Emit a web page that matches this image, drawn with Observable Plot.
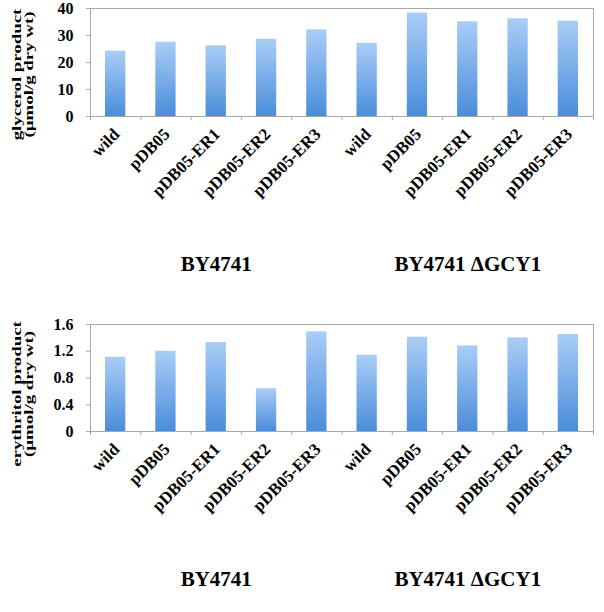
<!DOCTYPE html>
<html><head><meta charset="utf-8">
<script src="https://cdn.jsdelivr.net/npm/d3@7"></script>
<script src="https://cdn.jsdelivr.net/npm/@observablehq/plot@0.6"></script>
<style>
body{margin:0;background:#fff}
#c svg{display:block}
</style>
</head><body><div id="c"></div>
<script>
const strains = ["wild","pDB05","pDB05-ER1","pDB05-ER2","pDB05-ER3","wild","pDB05","pDB05-ER1","pDB05-ER2","pDB05-ER3"];
const strainGroup = ["BY4741","BY4741","BY4741","BY4741","BY4741","BY4741 ΔGCY1","BY4741 ΔGCY1","BY4741 ΔGCY1","BY4741 ΔGCY1","BY4741 ΔGCY1"];
const groups = ["BY4741","BY4741 ΔGCY1"];
const glycerol = [24.2, 27.5, 26.2, 28.6, 32.1, 27.1, 38.3, 35.1, 36.2, 35.3];
const erythritol = [1.11, 1.20, 1.33, 0.64, 1.49, 1.14, 1.41, 1.28, 1.40, 1.45];
const glycerolTicks = [0, 10, 20, 30, 40];
const erythritolTicks = [0, 0.4, 0.8, 1.2, 1.6];
const glycerolTitle = "glycerol product";
const erythritolTitle = "erythritol product";
const unitTitle = "(µmol/g dry wt)";

const FONT = "'Liberation Serif', 'Times New Roman', serif";
const GRAY = "#a8a8a8";
const TITLE_STRETCH = 1.45;

function chart({values, ticks, tickFormat, title, height, marginTop, marginBottom, titleDy, gradId}) {
  const rows = values.map((v, i) => ({i, v, name: strains[i], group: strainGroup[i]}));
  const gc = groups.map(g => ({g, c: d3.mean(rows.filter(r => r.group === g), r => r.i + 0.5)}));
  const yMid = (ticks[0] + ticks[ticks.length - 1]) / 2;
  const titleRows = [{t: title, dx: -74}, {t: unitTitle, dx: -62}];
  const svg = Plot.plot({
    width: 604, height, marginLeft: 90, marginRight: 11, marginTop, marginBottom,
    style: {fontFamily: FONT, fontWeight: "bold", fontSize: "15px", color: "black", background: "white", overflow: "hidden"},
    x: {type: "linear", domain: [0, strains.length], axis: null},
    y: {domain: [ticks[0], ticks[ticks.length - 1]], axis: null},
    marks: [
      Plot.rectY(rows, {x1: "i", x2: d => d.i + 1, y: "v", insetLeft: 15, insetRight: 15, fill: `url(#${gradId})`}),
      Plot.frame({stroke: GRAY}),
      Plot.axisY({ticks, tickFormat, tickSize: 4, tickPadding: 13, stroke: GRAY, fill: "black", fontSize: 16, label: null}),
      Plot.axisX({ticks: d3.range(strains.length + 1), tickFormat: () => "", tickSize: 4, stroke: GRAY, label: null}),
      Plot.text(rows, {x: d => d.i + 0.5, y: 0, text: "name", rotate: -45, textAnchor: "end", dx: 1, dy: 15, fontSize: 17, fill: "black"}),
      Plot.text(gc, {x: "c", y: 0, text: "g", dy: 148, fontSize: 21, fill: "black"}),
      Plot.text(titleRows.slice(0, 1), {x: () => 0, y: () => yMid, text: "t", rotate: -90, dx: titleRows[0].dx, dy: titleDy, fontSize: 13, fill: "black"}),
      Plot.text(titleRows.slice(1), {x: () => 0, y: () => yMid, text: "t", rotate: -90, dx: titleRows[1].dx, dy: titleDy, fontSize: 13, fill: "black"})
    ]
  });
  const defs = d3.select(svg).insert("defs", ":first-child");
  const lg = defs.append("linearGradient").attr("id", gradId).attr("x1", 0).attr("y1", 0).attr("x2", 0).attr("y2", 1);
  lg.append("stop").attr("offset", "0%").attr("stop-color", "#aacdf6");
  lg.append("stop").attr("offset", "100%").attr("stop-color", "#4a8ddb");
  return {svg, titles: [title, unitTitle]};
}

const c = document.getElementById("c");
const charts = [
  chart({values: glycerol, ticks: glycerolTicks, tickFormat: d => String(d), title: glycerolTitle,
    height: 306, marginTop: 8, marginBottom: 190, titleDy: 12, gradId: "g1"}),
  chart({values: erythritol, ticks: erythritolTicks, tickFormat: d => d === 0 ? "0" : d.toFixed(1), title: erythritolTitle,
    height: 306, marginTop: 18, marginBottom: 181, titleDy: 16, gradId: "g2"})
];
for (const {svg, titles} of charts) {
  c.appendChild(svg);
  // stretch the rotated axis titles along their length (as in the reference)
  d3.select(svg).selectAll("text").filter(function() { return titles.includes(this.textContent); })
    .each(function() {
      const len = this.getComputedTextLength();
      this.setAttribute("textLength", len * TITLE_STRETCH);
      this.setAttribute("lengthAdjust", "spacingAndGlyphs");
    });
}
</script>
</body></html>
